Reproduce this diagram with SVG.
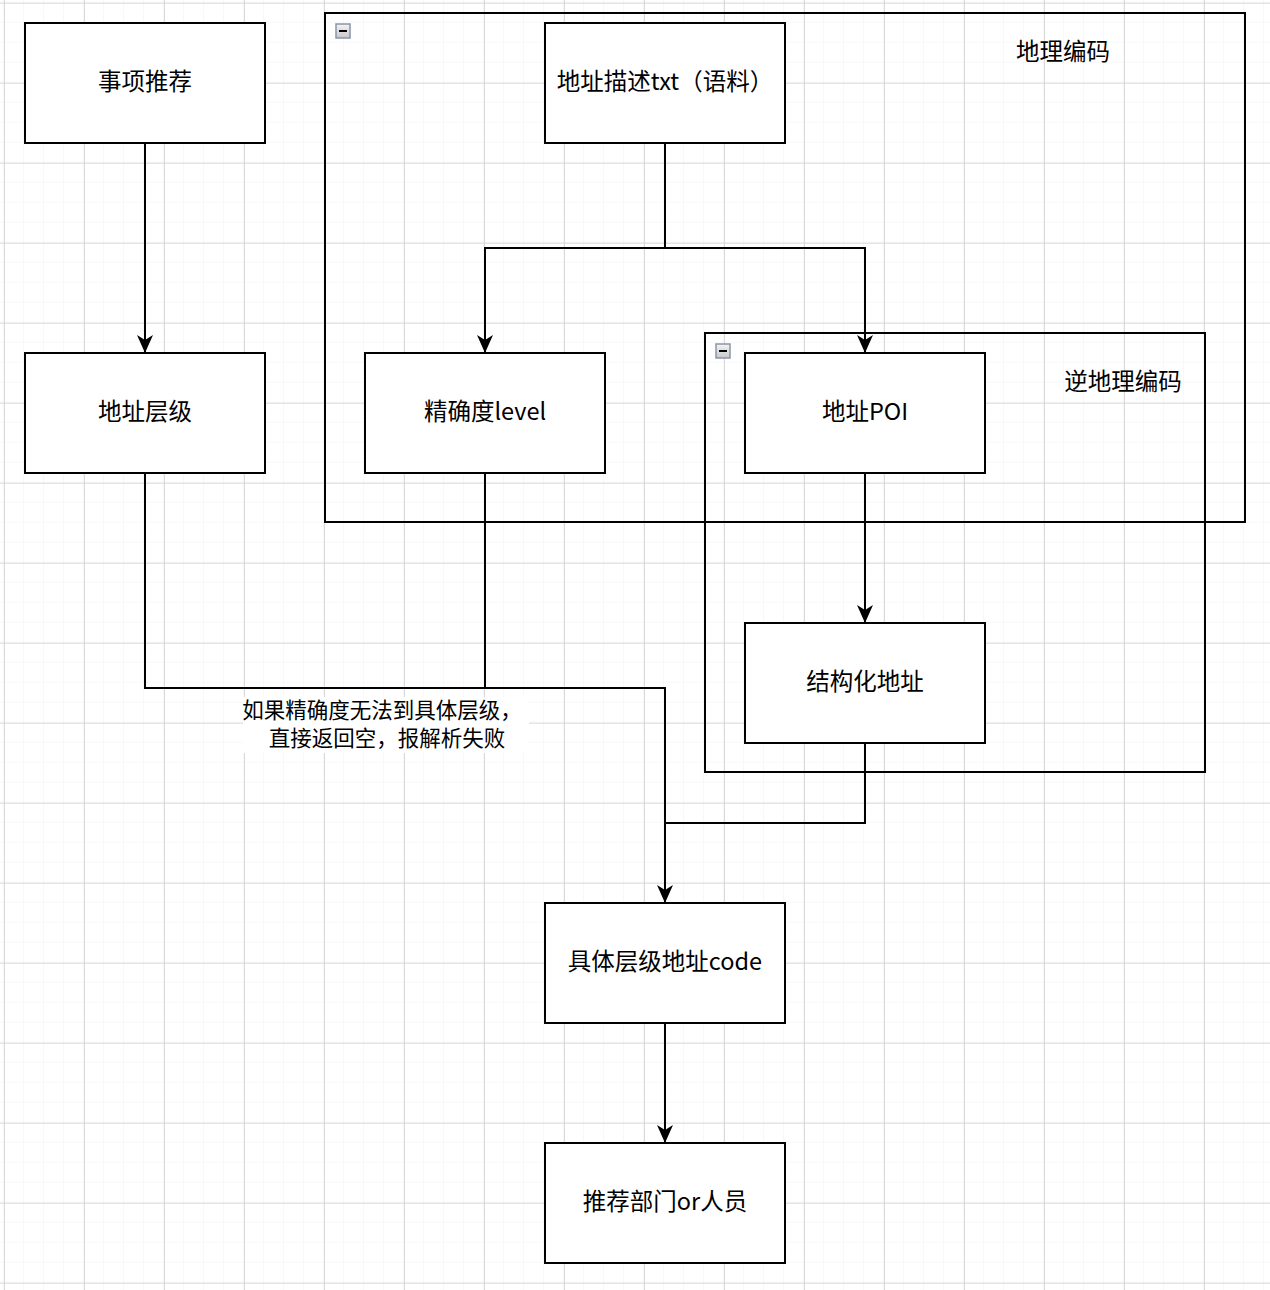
<svg xmlns="http://www.w3.org/2000/svg" width="1270" height="1290" viewBox="0 0 1270 1290">
<defs>
<pattern id="minor" x="4" y="2.7" width="20" height="20" patternUnits="userSpaceOnUse">
<path d="M20 0 V20 M0 20 H20" fill="none" stroke="#f0f0f0" stroke-width="1"/>
</pattern>
<pattern id="major" x="4" y="2.7" width="80" height="80" patternUnits="userSpaceOnUse">
<path d="M0.5 0 V80 M0 0.5 H80" fill="none" stroke="#d9d9d9" stroke-width="1"/>
</pattern>
<marker id="arr" viewBox="0 0 18 16" refX="17" refY="8" markerWidth="18" markerHeight="16" markerUnits="userSpaceOnUse" orient="auto">
<path d="M0 0 L18 8 L0 16 L5 8 Z" fill="#000"/>
</marker>
<linearGradient id="btn" x1="0" y1="0" x2="0" y2="1">
<stop offset="0" stop-color="#f4f4f4"/><stop offset="1" stop-color="#c8c8c8"/>
</linearGradient>
</defs>
<style>
.node rect{fill:#fff;stroke:#000;stroke-width:2}
.cont{fill:none;stroke:#000;stroke-width:2}
text{font-family:"Noto Sans CJK SC","Noto Sans",sans-serif;font-size:23.5px;fill:#000;text-anchor:middle;dominant-baseline:central}
.lbl{font-size:21.5px}
.edge{fill:none;stroke:#000;stroke-width:2}
</style>
<rect width="1270" height="1290" fill="#fff"/>
<rect width="1270" height="1290" fill="url(#minor)"/>
<rect width="1270" height="1290" fill="url(#major)"/>

<g id="geocoding">
<rect class="cont" x="325" y="13" width="920" height="509"/>
<rect x="336" y="24" width="14" height="14" fill="url(#btn)" stroke="#8a94a8" stroke-width="1.5"/>
<path d="M339 31 H347" stroke="#000" stroke-width="2"/>
<text x="1063" y="50">地理编码</text>
</g>
<g id="reverse-geocoding">
<rect class="cont" x="705" y="333" width="500" height="439"/>
<rect x="716" y="344" width="14" height="14" fill="url(#btn)" stroke="#8a94a8" stroke-width="1.5"/>
<path d="M719 351 H727" stroke="#000" stroke-width="2"/>
<text x="1123" y="380">逆地理编码</text>
</g>

<g id="connectors">
<path class="edge" d="M145 143 V352" marker-end="url(#arr)"/>
<path class="edge" d="M665 143 V248 H485 V352" marker-end="url(#arr)"/>
<path class="edge" d="M665 248 H865 V352" marker-end="url(#arr)"/>
<path class="edge" d="M865 473 V622" marker-end="url(#arr)"/>
<path class="edge" d="M145 473 V688 H665 V902" marker-end="url(#arr)"/>
<path class="edge" d="M485 473 V688"/>
<path class="edge" d="M865 743 V823 H665"/>
<path class="edge" d="M665 1023 V1142" marker-end="url(#arr)"/>
<g id="edge-label">
<rect x="243" y="697" width="286" height="56" fill="#fff"/>
<text class="lbl" x="382" y="708">如果精确度无法到具体层级，</text>
<text class="lbl" x="387" y="736">直接返回空，报解析失败</text>
</g>
</g>

<g id="n1" class="node"><rect x="25" y="23" width="240" height="120"/><text x="145" y="80">事项推荐</text></g>
<g id="n2" class="node"><rect x="545" y="23" width="240" height="120"/><text x="665" y="80">地址描述txt（语料）</text></g>
<g id="n3" class="node"><rect x="25" y="353" width="240" height="120"/><text x="145" y="410">地址层级</text></g>
<g id="n4" class="node"><rect x="365" y="353" width="240" height="120"/><text x="485" y="410">精确度level</text></g>
<g id="n5" class="node"><rect x="745" y="353" width="240" height="120"/><text x="865" y="410">地址POI</text></g>
<g id="n6" class="node"><rect x="745" y="623" width="240" height="120"/><text x="865" y="680">结构化地址</text></g>
<g id="n7" class="node"><rect x="545" y="903" width="240" height="120"/><text x="665" y="960">具体层级地址code</text></g>
<g id="n8" class="node"><rect x="545" y="1143" width="240" height="120"/><text x="665" y="1200">推荐部门or人员</text></g>
</svg>
